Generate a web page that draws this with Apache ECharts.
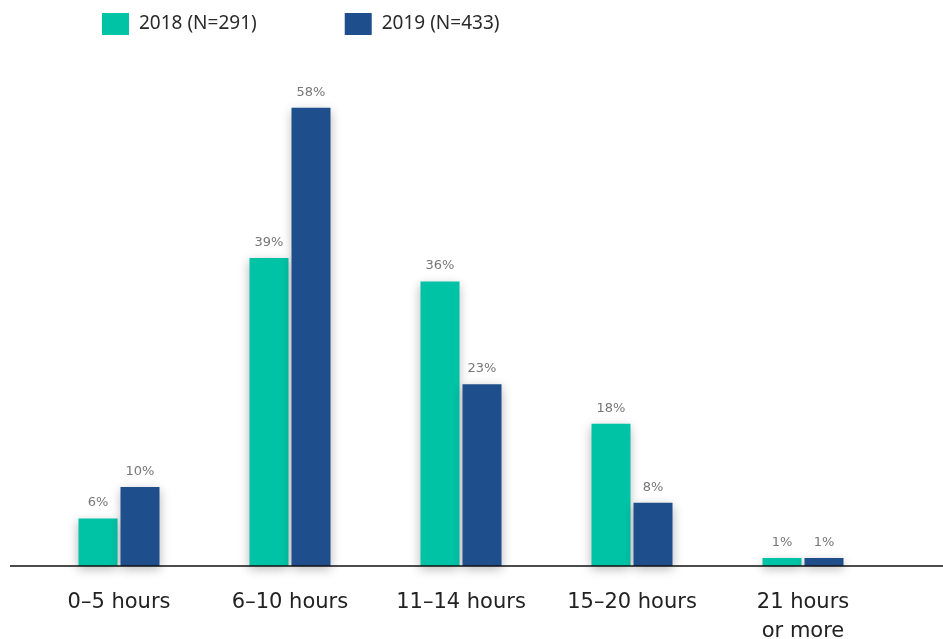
<!DOCTYPE html>
<html><head><meta charset="utf-8">
<script src="https://cdn.jsdelivr.net/npm/echarts@6/dist/echarts.min.js"></script>
<style>html,body{margin:0;padding:0;background:#fff}#c{width:943px;height:639px}</style>
</head><body><div id="c"></div>
<script>
const categories = ['0–5 hours', '6–10 hours', '11–14 hours', '15–20 hours', '21 hours\nor more'];
const series2018 = [6, 39, 36, 18, 1];
const series2019 = [10, 58, 23, 8, 1];
const seriesNames = ['2018 (N=291)', '2019 (N=433)'];

const chart = echarts.init(document.getElementById('c'));
const barStyle = (color) => ({
  color: color,
  shadowColor: 'rgba(0,0,0,0.28)',
  shadowBlur: 10,
  shadowOffsetX: 0,
  shadowOffsetY: 3
});
const labelCfg = {
  show: true, position: 'top', distance: 9,
  formatter: '{c}%', color: '#777', fontSize: 13, fontFamily: 'DejaVu Sans'
};
chart.setOption({
  animation: false,
  legend: {
    left: 102, top: 13, padding: 0, itemWidth: 27, itemHeight: 22, itemGap: 88, icon: 'rect',
    textStyle: { fontFamily: 'Noto Sans', fontSize: 19, color: '#2a2a2a', padding: [0, 0, 0, 5] },
    data: seriesNames
  },
  grid: { left: 33.5, right: 54.5, top: 92, bottom: 73, containLabel: false, outerBoundsMode: 'none' },
  xAxis: {
    type: 'category', data: categories,
    axisLine: { show: false },
    axisTick: { show: false },
    axisLabel: { color: '#222', fontSize: 21, fontFamily: 'DejaVu Sans', margin: 22, lineHeight: 29, interval: 0 }
  },
  yAxis: { type: 'value', min: 0, max: 60, show: false, splitLine: { show: false } },
  graphic: [{
    type: 'line', z: 10,
    shape: { x1: 10, y1: 566, x2: 943, y2: 566 },
    style: { stroke: '#111', lineWidth: 1.5 }
  }],
  series: [
    { name: seriesNames[0], type: 'bar', data: series2018, barWidth: 39, barGap: '7.7%',
      itemStyle: barStyle('#00C3A5'), label: labelCfg },
    { name: seriesNames[1], type: 'bar', data: series2019, barWidth: 39,
      itemStyle: barStyle('#1F4E8C'), label: labelCfg }
  ]
});
</script></body></html>
